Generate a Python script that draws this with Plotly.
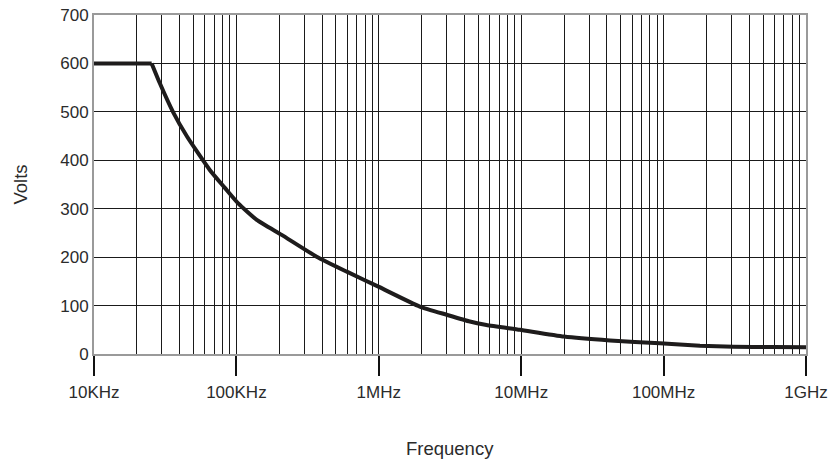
import plotly.graph_objects as go

# Frequency (Hz) and voltage readings
freq_hz = [1e4, 2.54e4, 2.9e4, 3.6e4, 4.5e4, 6.5e4, 8.3e4, 1.03e5, 1.39e5,
           2.08e5, 3.66e5, 5.96e5, 9.93e5, 1.94e6, 3.0e6, 4.36e6,
           5.7e6, 9.8e6, 2e7, 4.2e7, 9.4e7, 1.8e8, 3.1e8, 5.9e8, 1e9]
volts = [600, 600, 559, 499, 449, 380, 343, 311, 277,
         246, 201, 170, 139, 98, 81, 67,
         60, 50, 36, 28, 22, 17, 15, 14.5, 14]

x_tick_vals = [1e4, 1e5, 1e6, 1e7, 1e8, 1e9]
x_tick_text = ["10KHz", "100KHz", "1MHz", "10MHz", "100MHz", "1GHz"]
y_tick_vals = [0, 100, 200, 300, 400, 500, 600, 700]

FONT = "Liberation Sans, Arial, Helvetica, sans-serif"
TXT = "#2b2b2b"
LINE = dict(color="#1e1c1c", width=4)

fig = go.Figure()
# flat plateau segment (sharp knee)
fig.add_trace(go.Scatter(x=freq_hz[:2], y=volts[:2], mode="lines", line=LINE,
                         showlegend=False, hoverinfo="skip"))
# roll-off segment, smoothed through the read points
fig.add_trace(go.Scatter(x=freq_hz[1:], y=volts[1:], mode="lines",
                         line=dict(LINE, shape="spline", smoothing=0.5),
                         showlegend=False, hoverinfo="skip"))

fig.update_layout(
    width=836, height=461,
    margin=dict(l=94, r=30, t=15, b=107, autoexpand=False),
    paper_bgcolor="white", plot_bgcolor="white",
    font=dict(family=FONT, size=17, color=TXT),
    xaxis=dict(
        type="log", range=[4, 9], automargin=False,
        tickvals=x_tick_vals, ticktext=x_tick_text,
        ticks="outside", ticklen=20, tickwidth=2, tickcolor="#111",
        showgrid=True, gridcolor="#1a1a1a", gridwidth=1,
        minor=dict(dtick="D1", showgrid=True, gridcolor="#1a1a1a", gridwidth=1, ticks=""),
        showline=True, linecolor="#9a9a9a", linewidth=2, mirror=True,
        zeroline=False, ticklabelstandoff=2,
        tickfont=dict(size=17, color=TXT, family=FONT),
    ),
    yaxis=dict(
        range=[0, 700], tickvals=y_tick_vals, automargin=False,
        ticks="", showgrid=True, gridcolor="#1a1a1a", gridwidth=1,
        showline=True, linecolor="#9a9a9a", linewidth=2, mirror=True,
        zeroline=False, ticklabelstandoff=0,
        tickfont=dict(size=17, color=TXT, family=FONT),
    ),
    annotations=[
        dict(text="Frequency", xref="paper", yref="paper", x=0.5, y=-0.280,
             xanchor="center", yanchor="middle", showarrow=False,
             font=dict(size=18.5, color=TXT, family=FONT)),
        dict(text="Volts", xref="paper", yref="paper", x=-0.1039, y=0.5,
             xanchor="center", yanchor="middle", textangle=-90, showarrow=False,
             font=dict(size=18.5, color=TXT, family=FONT)),
    ],
)

fig.write_html("out.html", config={"displayModeBar": False},
               post_script="document.body.style.margin='0px';document.body.style.padding='0px';")
